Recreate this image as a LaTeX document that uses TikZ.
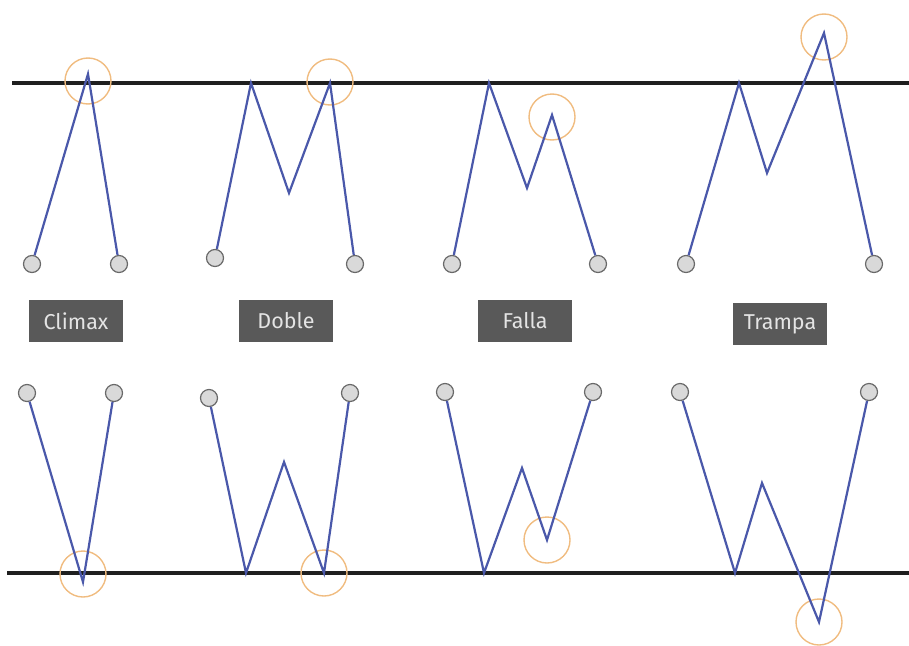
\documentclass[tikz,border=0pt]{standalone}
\usepackage{fontspec}
\setmainfont{Fira Sans}
\definecolor{wave}{RGB}{74,88,170}
\definecolor{ringc}{RGB}{240,188,128}
\definecolor{dotfill}{RGB}{217,217,217}
\definecolor{dotedge}{RGB}{105,105,105}
\definecolor{tagfill}{RGB}{89,89,89}
\definecolor{tagtext}{RGB}{228,228,228}
\begin{document}
\begin{tikzpicture}[x=1pt,y=-1pt,
  level/.style={line width=3.6pt, draw=black!88},
  waveline/.style={draw=wave, line width=2.2pt, line join=miter},
  endpt/.style={circle, draw=dotedge, fill=dotfill, line width=1.2pt, minimum size=17pt, inner sep=0pt},
  ring/.style={circle, draw=ringc, line width=1.4pt, minimum size=46pt, inner sep=0pt},
  tag/.style={fill=tagfill, text=tagtext, minimum width=94pt, minimum height=42pt, inner sep=0pt,
              font=\fontsize{21.5}{24}\selectfont}]
\useasboundingbox (0,0) rectangle (909,645);

% resistance and support levels
\coordinate (rL) at (12,83);  \coordinate (rR) at (909,83);
\coordinate (sL) at (7,573);  \coordinate (sR) at (909,573);
\draw[level] (rL) -- (rR);
\draw[level] (sL) -- (sR);

% ---------- top row: tops ----------
% Climax
\node[endpt] (tc0) at (32,264) {};
\node[endpt] (tc1) at (119,264) {};
\coordinate (tcp) at (88,74);
\node[ring] (tcr) at (88,81) {};
\draw[waveline] (tc0) -- (tcp) -- (tc1);

% Doble
\node[endpt] (td0) at (215,258) {};
\node[endpt] (td1) at (355,264) {};
\coordinate (tdp1) at (251,83);
\coordinate (tdv) at (289,193);
\coordinate (tdp2) at (330,83);
\node[ring] (tdr) at (330,82) {};
\draw[waveline] (td0) -- (tdp1) -- (tdv) -- (tdp2) -- (td1);

% Falla
\node[endpt] (tf0) at (452,264) {};
\node[endpt] (tf1) at (598,264) {};
\coordinate (tfp1) at (489,83);
\coordinate (tfv) at (527,188);
\coordinate (tfp2) at (552,115);
\node[ring] (tfr) at (552,117) {};
\draw[waveline] (tf0) -- (tfp1) -- (tfv) -- (tfp2) -- (tf1);

% Trampa
\node[endpt] (tt0) at (686,264) {};
\node[endpt] (tt1) at (874,264) {};
\coordinate (ttp1) at (739,83);
\coordinate (ttv) at (767,173);
\coordinate (ttp2) at (824,33);
\node[ring] (ttr) at (824,37) {};
\draw[waveline] (tt0) -- (ttp1) -- (ttv) -- (ttp2) -- (tt1);

% ---------- labels ----------
\node[tag] (lc) at (76,321) {Climax};
\node[tag] (ld) at (286,321) {Doble};
\node[tag] (lf) at (525,321) {Falla};
\node[tag] (lt) at (780,324) {Trampa};

% ---------- bottom row: bottoms ----------
% Climax
\node[endpt] (bc0) at (27,393) {};
\node[endpt] (bc1) at (114,393) {};
\coordinate (bcv) at (83,582);
\node[ring] (bcr) at (83,574) {};
\draw[waveline] (bc0) -- (bcv) -- (bc1);

% Doble
\node[endpt] (bd0) at (209,398) {};
\node[endpt] (bd1) at (350,393) {};
\coordinate (bdv1) at (246,573);
\coordinate (bdp) at (284,462);
\coordinate (bdv2) at (324,573);
\node[ring] (bdr) at (324,573) {};
\draw[waveline] (bd0) -- (bdv1) -- (bdp) -- (bdv2) -- (bd1);

% Falla
\node[endpt] (bf0) at (445,392) {};
\node[endpt] (bf1) at (593,392) {};
\coordinate (bfv1) at (484,573);
\coordinate (bfp) at (522,468);
\coordinate (bfv2) at (547,540);
\node[ring] (bfr) at (547,540) {};
\draw[waveline] (bf0) -- (bfv1) -- (bfp) -- (bfv2) -- (bf1);

% Trampa
\node[endpt] (bt0) at (680,392) {};
\node[endpt] (bt1) at (869,392) {};
\coordinate (btv1) at (735,573);
\coordinate (btp) at (762,483);
\coordinate (btv2) at (819,622);
\node[ring] (btr) at (819,622) {};
\draw[waveline] (bt0) -- (btv1) -- (btp) -- (btv2) -- (bt1);
\end{tikzpicture}
\end{document}
